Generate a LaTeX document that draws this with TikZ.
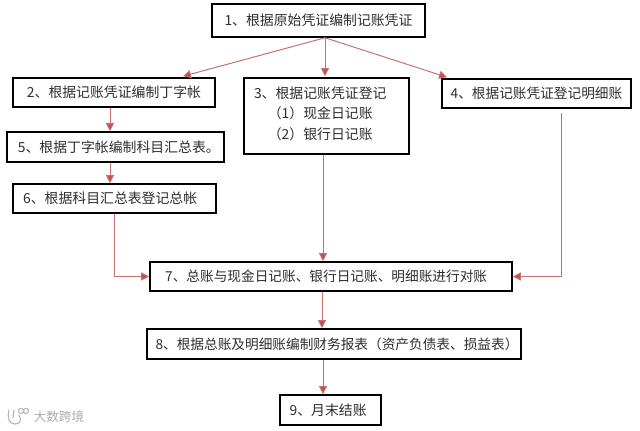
\documentclass[tikz,border=0pt]{standalone}
\usepackage{fontspec}
\setmainfont{Noto Sans CJK SC}
\usetikzlibrary{arrows.meta,calc}
\definecolor{flowred}{HTML}{C0504D}
\definecolor{linkred}{HTML}{C9706E}
\definecolor{inkgrey}{HTML}{2E2E2E}
\newcommand{\pxk}[1]{\hspace*{#1pt}}
\tikzset{
  x=0.75pt,y=-0.75pt,
  acct/.style={draw=black,line width=1.15pt,fill=white,text=inkgrey,inner sep=0pt,
    font=\fontsize{10.4}{15.4}\selectfont},
  tight/.style={font=\fontsize{10.25}{15.4}\selectfont},
  sz/.style 2 args={minimum width=#1*0.75pt,minimum height=#2*0.75pt},
  link/.style={draw=linkred,line width=0.75pt,-{Triangle[length=6pt,width=6pt,fill=flowred]}},
  wmark/.style={text=black!33,font=\fontsize{9.4}{11}\selectfont,inner sep=0pt}
}
\begin{document}
\begin{tikzpicture}
\useasboundingbox (0,0) rectangle (640,430);
\node[acct,sz={213}{33}] (n1) at (318.5,20.5) {1、根据原始凭证编制记账凭证};
\node[acct,sz={202}{29}] (n2) at (114,92.5) {2、根据记账凭证编制丁字帐};
\node[acct,sz={217}{30}] (n5) at (115.5,147) {\pxk{5}5、根据丁字帐编制科目汇总表。};
\node[acct,sz={203}{29}] (n6) at (114.5,198.5) {\pxk{-6.5}6、根据科目汇总表登记总帐};
\node[acct,sz={165}{76},align=left,text width=145*0.75pt] (n3) at (326.5,116)
  {3、根据记账凭证登记\\\hspace*{1em}（1）现金日记账\\\hspace*{1em}（2）银行日记账\\[-10.9pt]\mbox{}};
\node[acct,tight,sz={189}{29}] (n4) at (536.5,93.5) {4、根据记账凭证登记明细账};
\node[acct,tight,sz={362}{29}] (n7) at (331,276.5) {\pxk{-7.25}7、总账与现金日记账、银行日记账、明细账进行对账};
\node[acct,tight,sz={374}{30}] (n8) at (334,344) {\pxk{4.5}8、根据总账及明细账编制财务报表（资产负债表、损益表）};
\node[acct,sz={101}{30}] (n9) at (330.5,410) {\pxk{-3.5}9、月末结账};
\node[wmark] (wm) at (59,417) {大数跨境};
\coordinate (hub) at ($(n1.south)+(6.5,0)$);
\draw[link] (hub) -- ($(n2.north)+(69,-1)$);
\draw[link] (hub) -- ($(n3.north)+(-1.5,-1)$);
\draw[link] (hub) -- ($(n4.north)+(-89.5,-1)$);
\draw[link] ($(n2.south)+(-4,0)$) -- ($(n5.north)+(-5.5,0)$);
\draw[link] ($(n5.south)+(-5.5,0)$) -- ($(n6.north)+(-4.5,0)$);
\draw[link] ($(n6.south)+(0,0)$) |- (n7.west);
\draw[link] ($(n3.south)+(-3.5,0)$) -- ($(n7.north)+(-8,0)$);
\coordinate (n4out) at ($(n4.south)+(25,4)$);
\draw[link] (n4out) |- (n7.east);
\draw[link] ($(n7.south)+(-9,0)$) -- ($(n8.north)+(-12,0)$);
\draw[link] ($(n8.south)+(-11,0)$) -- ($(n9.north)+(-7.5,0)$);
\begin{scope}[draw=black!28,line width=0.9pt]
\draw (9,410) .. controls (7,418) and (9,424) .. (15,424) .. controls (20,424) and (22,420) .. (19,415);
\draw (14,410) -- (13,418);
\draw (21,411) circle [radius=2.6];
\draw (26,411) circle [radius=2.6];
\end{scope}
\end{tikzpicture}
\end{document}
